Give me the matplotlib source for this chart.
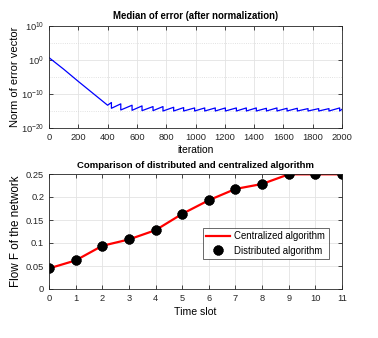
import numpy as np
import matplotlib
matplotlib.use("Agg")
import matplotlib.pyplot as plt
from matplotlib.ticker import FixedLocator, FixedFormatter

FONT = ['Liberation Sans', 'DejaVu Sans']
plt.rcParams['font.family'] = FONT
plt.rcParams['mathtext.fontset'] = 'custom'
plt.rcParams['mathtext.rm'] = 'Liberation Sans'
plt.rcParams['mathtext.it'] = 'Liberation Sans'

# ---- top chart data (log10 of error) ----
decay_iter = [0, 100, 200, 300, 400]
decay_log = [0.7, -2.7, -6.3, -9.8, -13.3]
drop_iter = [426, 490, 567, 635, 710, 778, 851, 919, 994, 1063, 1135, 1204,
             1279, 1347, 1415, 1484, 1556, 1625, 1695, 1768, 1841, 1911, 1984]
peak_log = [-12.5, -12.9, -13.3, -13.5, -13.7, -13.7, -13.9, -14.0, -14.1, -14.1,
            -14.1, -14.1, -14.1, -14.1, -14.1, -14.2, -14.1, -14.2, -14.2, -14.3,
            -14.3, -14.3, -14.1]
trough_log = [-14.2, -14.7, -14.8, -14.9, -14.9, -15.0, -15.0, -15.0, -15.0, -15.0,
              -15.0, -15.0, -15.0, -15.0, -15.0, -15.0, -15.0, -15.0, -15.0, -15.0,
              -15.0, -15.0, -15.0]
end_iter = 2000
end_log = -14.5

# ---- bottom chart data ----
time_slot = list(range(12))
flow = [0.0448, 0.0621, 0.0939, 0.1077, 0.1279, 0.1633, 0.1930, 0.2175,
        0.2283, 0.2493, 0.2493, 0.2493]

# build top polyline
xs = list(decay_iter)
ys = list(decay_log)
for d, p, t in zip(drop_iter, peak_log, trough_log):
    xs += [d, d]
    ys += [p, t]
xs.append(end_iter)
ys.append(end_log)
err = 10.0 ** np.array(ys)

fig = plt.figure(figsize=(3.78, 3.38), dpi=100)
ax1 = fig.add_axes([49/378, 1-128/338, 293/378, 102/338])
ax2 = fig.add_axes([49/378, 1-289/338, 293/378, 115/338])

def style(ax):
    ax.tick_params(direction='in', top=True, right=True, labelsize=6.7,
                   length=3, width=0.6, colors='#262626', pad=3.5)
    for s in ax.spines.values():
        s.set_linewidth(0.6)
        s.set_color('#262626')

ax1.plot(xs, err, color='blue', lw=0.9)
ax1.set_yscale('log')
ax1.set_xlim(0, 2000)
ax1.set_ylim(1e-20, 1e10)
ax1.yaxis.set_major_locator(FixedLocator([1e-20, 1e-10, 1e0, 1e10]))
ax1.yaxis.set_major_formatter(FixedFormatter([r'$10^{-20}$', r'$10^{-10}$', r'$10^{0}$', r'$10^{10}$']))
ax1.yaxis.set_minor_locator(FixedLocator([1e-15, 1e-5, 1e5]))
ax1.yaxis.set_minor_formatter(FixedFormatter(['', '', '']))
ax1.set_xticks(np.arange(0, 2001, 200))
ax1.grid(True, which='major', color='#e3e3e3', lw=0.6)
ax1.grid(True, which='minor', axis='y', color='#d8d8d8', lw=0.6, ls=':')
ax1.tick_params(which='minor', length=0)
style(ax1)
ax1.set_title('Median of error (after normalization)', fontsize=6.9,
              fontweight='bold', pad=5)
ax1.set_xlabel('iteration', fontsize=7.4, labelpad=2)
ax1.set_ylabel('Norm of error vector', fontsize=8.0)
ax1.yaxis.set_label_coords(-0.099, 0.5)

ax2.plot(time_slot, flow, color='red', lw=1.6, label='Centralized algorithm')
ax2.plot(time_slot, flow, ls='none', marker=(8, 2, 0), ms=7, mew=2.5,
         color='black', label='Distributed algorithm')
ax2.set_xlim(0, 11)
ax2.set_ylim(0, 0.25)
ax2.set_xticks(time_slot)
ax2.set_yticks([0, 0.05, 0.1, 0.15, 0.2, 0.25])
ax2.set_yticklabels(['0', '0.05', '0.1', '0.15', '0.2', '0.25'])
ax2.grid(True, color='#e3e3e3', lw=0.6)
style(ax2)
ax2.set_title('Comparison of distributed and centralized algorithm', fontsize=6.8,
              fontweight='bold', pad=4)
ax2.set_xlabel('Time slot', fontsize=7.6, labelpad=3)
ax2.set_ylabel('Flow F of the network', fontsize=8.4)
ax2.yaxis.set_label_coords(-0.092, 0.5)
leg = ax2.legend(loc='lower left', bbox_to_anchor=(0.526, 0.26, 0.43, 0.28),
                 mode='expand', fontsize=6.9, frameon=True, fancybox=False,
                 borderpad=0.35, labelspacing=0.45, handlelength=2.5,
                 handletextpad=0.4, borderaxespad=0)
leg.get_frame().set_edgecolor('#262626')
leg.get_frame().set_linewidth(0.6)

fig.savefig('out.png', dpi=100)
